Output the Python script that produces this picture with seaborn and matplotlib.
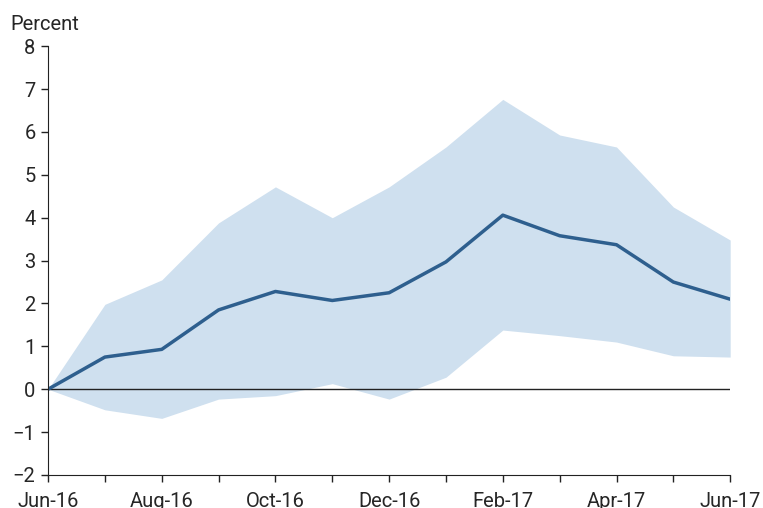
import pandas as pd
import seaborn as sns
from matplotlib import pyplot as plt

months = ['Jun-16', 'Jul-16', 'Aug-16', 'Sep-16', 'Oct-16', 'Nov-16', 'Dec-16',
          'Jan-17', 'Feb-17', 'Mar-17', 'Apr-17', 'May-17', 'Jun-17']
median = [0, 0.75, 0.93, 1.85, 2.28, 2.07, 2.25, 2.97, 4.06, 3.58, 3.37, 2.50, 2.10]
upper = [0, 1.98, 2.55, 3.88, 4.72, 4.00, 4.72, 5.65, 6.76, 5.93, 5.65, 4.25, 3.48]
lower = [0, -0.48, -0.68, -0.23, -0.15, 0.13, -0.23, 0.28, 1.38, 1.25, 1.10, 0.78, 0.75]

df = pd.DataFrame({'month': months, 'median': median, 'upper': upper, 'lower': lower})
df['pos'] = range(len(df))

sns.set_style('ticks')
plt.rcParams['font.family'] = ['Roboto', 'DejaVu Sans']

f, ax = plt.subplots(figsize=(7.63, 5.08), dpi=100)
f.subplots_adjust(left=0.063, right=0.957, top=0.909, bottom=0.065)

ax.fill_between(df['pos'], df['lower'], df['upper'], color='#cfe0ef', linewidth=0)
ax.axhline(0, color='#222222', linewidth=1)
sns.lineplot(data=df, x='pos', y='median', color='#2e5f8e', linewidth=2.5, ax=ax)

ax.set_xlim(0, 12)
ax.set_ylim(-2, 8)
ax.set_xticks(df['pos'])
ax.set_xticklabels([m if i % 2 == 0 else '' for i, m in enumerate(months)])
ax.set_yticks(range(-2, 9))
ax.tick_params(labelsize=14.5, length=5, width=1, color='#222222')
ax.tick_params(axis='x', pad=7)
ax.tick_params(axis='y', pad=4)
ax.set_xlabel('')
ax.set_ylabel('')
sns.despine(ax=ax)
ax.spines['left'].set_color('#222222')
ax.spines['bottom'].set_color('#222222')
f.text(0.013, 0.94, 'Percent', fontsize=14.5)

f.savefig('out.png', dpi=100)
